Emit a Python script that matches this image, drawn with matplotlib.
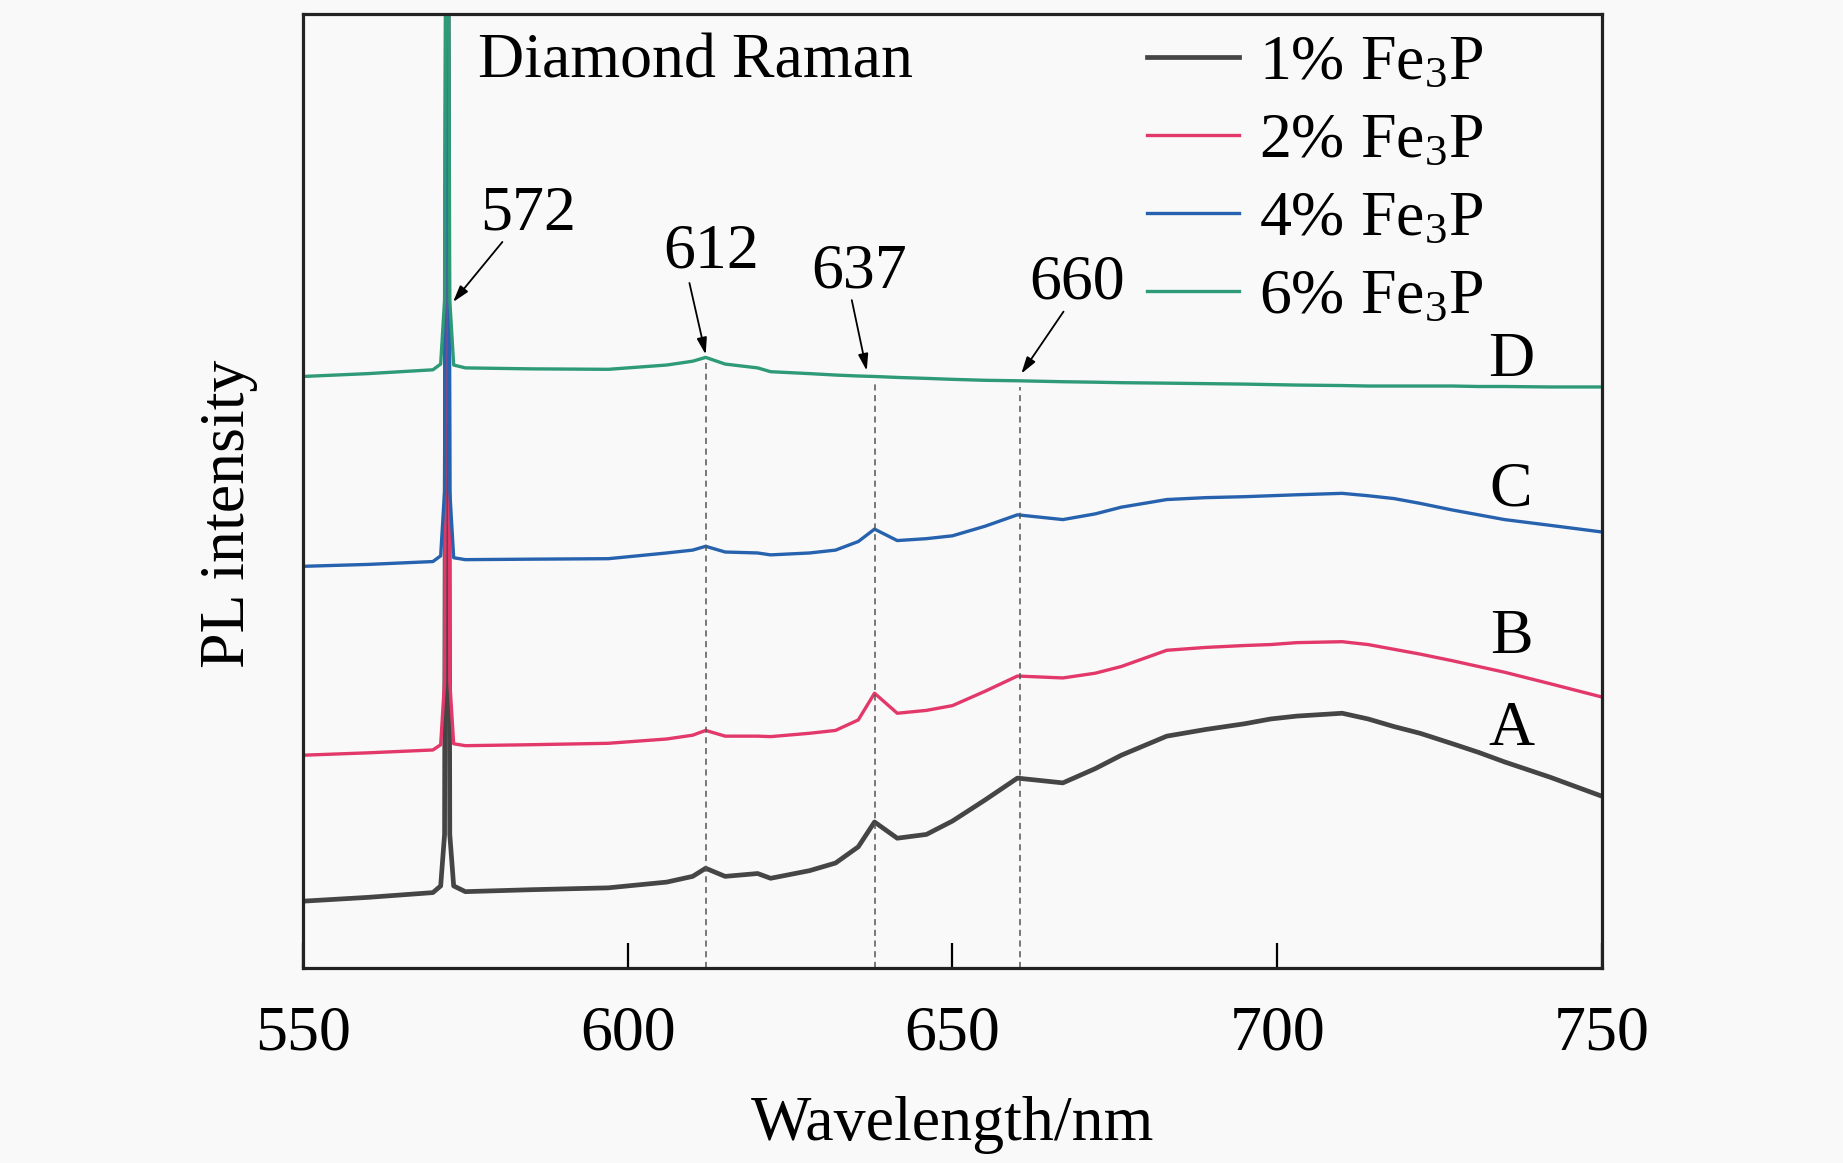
import numpy as np
import matplotlib
matplotlib.use("Agg")
import matplotlib.pyplot as plt

plt.rcParams['font.family'] = ['Liberation Serif', 'DejaVu Serif']
plt.rcParams['mathtext.fontset'] = 'custom'
plt.rcParams['mathtext.rm'] = 'Liberation Serif'
plt.rcParams['mathtext.it'] = 'Liberation Serif:italic'

# wavelength grid (nm)
wavelength = [550, 560, 570, 571.2, 571.8, 572.2, 572.6, 573.2, 575, 585, 597, 606, 610, 612,
              615, 620, 622, 628, 632, 635.5, 638, 641.5, 646, 650, 655, 660, 667, 672, 676, 683,
              689, 695, 699, 703, 710, 714, 718, 722, 727, 731, 735, 742, 750]

# PL intensity (arbitrary units, stacked)
pl_1 = [7.0, 7.4, 7.9, 8.6, 14, 150, 14, 8.6, 8.0, 8.2, 8.4, 9.0, 9.6, 10.45,
        9.6, 9.9, 9.4, 10.2, 11.0, 12.7, 15.3, 13.6, 14.0, 15.4, 17.6, 19.9, 19.4, 20.9, 22.3, 24.3,
        25.0, 25.6, 26.1, 26.4, 26.7, 26.1, 25.3, 24.6, 23.5, 22.6, 21.6, 20.0, 18.0]
pl_2 = [22.3, 22.55, 22.85, 23.4, 30, 150, 30, 23.5, 23.3, 23.4, 23.55, 24.0, 24.4, 24.9,
        24.3, 24.3, 24.25, 24.6, 24.9, 26.0, 28.8, 26.7, 27.0, 27.5, 29.0, 30.6, 30.4, 30.9, 31.6, 33.3,
        33.6, 33.8, 33.9, 34.1, 34.2, 33.9, 33.4, 32.9, 32.2, 31.6, 31.0, 29.8, 28.4]
pl_4 = [42.1, 42.3, 42.6, 43.2, 50, 150, 50, 43.0, 42.8, 42.85, 42.9, 43.5, 43.8, 44.2,
        43.6, 43.5, 43.3, 43.5, 43.8, 44.7, 46.0, 44.8, 45.0, 45.3, 46.3, 47.5, 47.0, 47.6, 48.3, 49.1,
        49.3, 49.4, 49.5, 49.6, 49.75, 49.5, 49.2, 48.7, 48.0, 47.5, 47.0, 46.4, 45.7]
pl_6 = [62.0, 62.3, 62.7, 63.3, 70, 150, 70, 63.2, 62.9, 62.8, 62.75, 63.2, 63.6, 64.0,
        63.3, 62.9, 62.5, 62.3, 62.15, 62.05, 62.0, 61.9, 61.8, 61.7, 61.6, 61.55, 61.45, 61.4, 61.35, 61.3,
        61.25, 61.2, 61.15, 61.1, 61.05, 61.0, 61.0, 61.0, 61.0, 60.95, 60.95, 60.9, 60.9]

series_labels = ['1% Fe$_\\mathrm{3}$P', '2% Fe$_\\mathrm{3}$P', '4% Fe$_\\mathrm{3}$P', '6% Fe$_\\mathrm{3}$P']
curve_letters = ['A', 'B', 'C', 'D']
colors = ['#454545', '#e2386a', '#2762ae', '#2e9a78']
widths = [3.4, 2.4, 2.4, 2.4]

peak_labels = ['572', '612', '637', '660']
peak_lines = [612, 638, 660.4]

fig = plt.figure(figsize=(18.43, 11.63), dpi=100, facecolor='#f9f9f9')
ax = fig.add_axes([0.1644, 0.1677, 0.8692 - 0.1644, 0.988 - 0.1677])
ax.set_facecolor('#f9f9f9')

all_pl = [pl_1, pl_2, pl_4, pl_6]
for vals, lab, c, lw in zip(all_pl, series_labels, colors, widths):
    ax.plot(wavelength, vals, color=c, lw=lw, label=lab, solid_joinstyle='round')

# dashed guides from the axis up to curve D
for xv in peak_lines:
    top = np.interp(xv, wavelength, pl_6)
    ax.vlines(xv, 0, top - 0.6, colors='#555555', linestyles=(0, (4, 3)), lw=1.1)

fs = 46
ax.text(576.9, 93.3, 'Diamond Raman', fontsize=fs, ha='left', va='baseline')

# peak annotations: (label x, label baseline y, arrow tail, arrow tip)
ann = [
    (584.6, 77.4, (580.7, 76.1), (573.1, 69.8)),
    (612.8, 73.4, (609.5, 71.8), (612.0, 64.3)),
    (635.6, 71.3, (634.5, 70.0), (636.8, 62.6)),
    (669.2, 70.2, (667.1, 68.8), (660.6, 62.3)),
]
for lab, (tx, ty, tail, tip) in zip(peak_labels, ann):
    ax.text(tx, ty, lab, fontsize=fs, ha='center', va='baseline')
    ax.annotate('', xy=tip, xytext=tail,
                arrowprops=dict(arrowstyle='-|>,head_length=1.0,head_width=0.3', color='black',
                                lw=1.3, shrinkA=0, shrinkB=0))

letter_y = [23.4, 33.0, 48.5, 62.0]
for let, ly in zip(curve_letters, letter_y):
    ax.text(736.0, ly, let, fontsize=fs, ha='center', va='baseline')

ax.set_xlim(550, 750)
ax.set_ylim(0, 100)
ax.set_xticks([550, 600, 650, 700, 750])
ax.set_yticks([])
ax.tick_params(axis='x', direction='in', length=18, width=1.6, labelsize=fs, pad=27)
for sp in ax.spines.values():
    sp.set_linewidth(2.3)
    sp.set_color('#222222')

ax.set_xlabel('Wavelength/nm', fontsize=fs)
ax.set_ylabel('PL intensity', fontsize=fs)
ax.xaxis.set_label_coords(0.5, -0.134)
ax.yaxis.set_label_coords(-0.035, 0.476)

leg = ax.legend(loc='upper left', bbox_to_anchor=(0.650, 0.978), frameon=False, fontsize=fs,
                handlelength=1.44, handletextpad=0.31, borderpad=0, labelspacing=0.3,
                borderaxespad=0)

fig.savefig('out.png', dpi=100, facecolor=fig.get_facecolor())
